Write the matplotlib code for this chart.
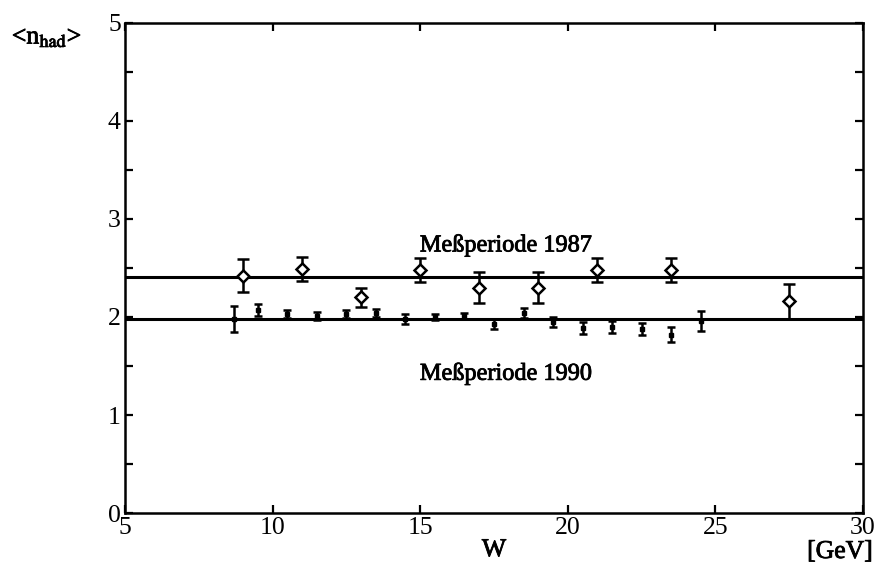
import numpy as np
import matplotlib.pyplot as plt
import matplotlib.patheffects as pe

plt.rcParams['font.family'] = ['Liberation Serif', 'DejaVu Serif']
plt.rcParams['mathtext.fontset'] = 'stix'

# Messperiode 1987
w_87 = [9.0, 11.0, 13.0, 15.0, 17.0, 19.0, 21.0, 23.5, 27.5]
n_87 = [2.42, 2.49, 2.20, 2.48, 2.30, 2.30, 2.48, 2.48, 2.16]
e_87 = [0.17, 0.12, 0.10, 0.12, 0.16, 0.16, 0.12, 0.12, 0.18]

# Messperiode 1990
w_90 = [8.7, 9.5, 10.5, 11.5, 12.5, 13.5, 14.5, 15.5, 16.5, 17.5, 18.5,
        19.5, 20.5, 21.5, 22.5, 23.5, 24.5]
n_90 = [1.98, 2.07, 2.03, 2.01, 2.03, 2.04, 1.98, 2.00, 2.01, 1.93, 2.04,
        1.95, 1.89, 1.90, 1.88, 1.82, 1.96]
e_90 = [0.13, 0.06, 0.04, 0.04, 0.04, 0.04, 0.05, 0.03, 0.03, 0.05, 0.05,
        0.05, 0.06, 0.06, 0.06, 0.08, 0.10]

mean_87 = 2.41
mean_90 = 1.98

ink = [pe.withStroke(linewidth=0.6, foreground='black')]

fig = plt.figure(figsize=(8.82, 5.73), dpi=100)
ax = fig.add_axes([0.1417, 0.1047, 0.8368, 0.8552])

ax.axhline(mean_87, color='black', lw=2.2)
ax.axhline(mean_90, color='black', lw=2.2)

ax.errorbar(w_87, n_87, yerr=e_87, fmt='D', mfc='white', mec='black',
            mew=1.8, ms=6, color='black', elinewidth=1.8, capsize=4,
            capthick=1.8)
ax.plot(w_87, n_87, 'k.', ms=3)
ax.errorbar(w_90, n_90, yerr=e_90, fmt='s', color='black', ms=3,
            elinewidth=1.8, capsize=3, capthick=1.8)

ax.text(17.9, 2.73, 'Meßperiode 1987', ha='center', va='center', fontsize=17.5,
        path_effects=ink)
ax.text(17.9, 1.42, 'Meßperiode 1990', ha='center', va='center', fontsize=17.5,
        path_effects=ink)

ax.set_xlim(5, 30)
ax.set_ylim(0, 5)
ax.set_xticks([5, 10, 15, 20, 25, 30])
ax.set_yticks([0, 1, 2, 3, 4, 5])
ax.set_yticks(np.arange(0, 5.01, 0.5), minor=True)
ax.tick_params(which='both', direction='in', length=6, width=1.6,
               top=True, right=True, labelsize=18.5, pad=3)
for s in ax.spines.values():
    s.set_linewidth(1.8)

ax.set_xlabel('W', fontsize=18.5, labelpad=0, path_effects=ink)
fig.text(840 / 882, 1 - 552 / 573, '[GeV]', ha='center', va='center',
         fontsize=18.5, path_effects=ink)
fig.text(47 / 882, 1 - 38 / 573, r'<n$_{\rm had}$>', ha='center', va='center',
         fontsize=18.5, path_effects=ink)

fig.savefig('out.png', dpi=100)
